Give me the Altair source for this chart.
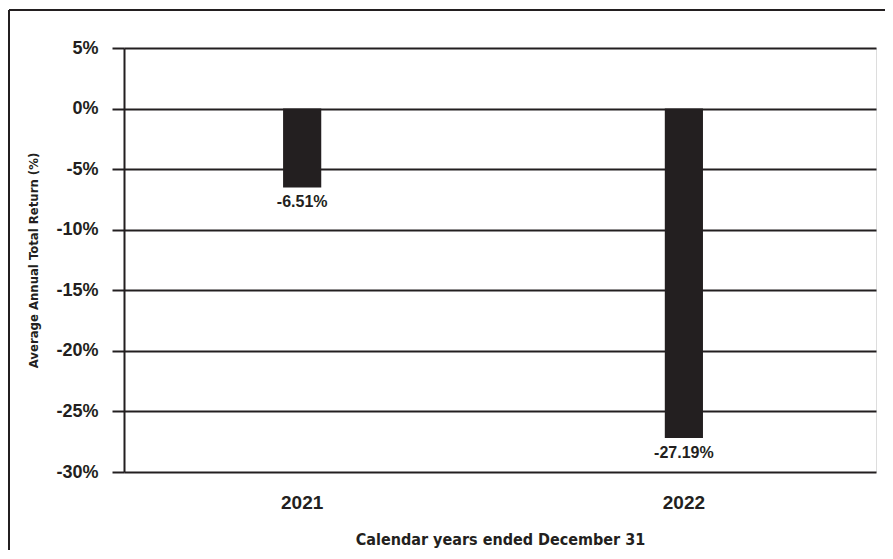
import altair as alt
import pandas as pd

years = ["2021", "2022"]
returns = [-6.51, -27.19]
labels = ["-6.51%", "-27.19%"]
y_ticks = [5, 0, -5, -10, -15, -20, -25, -30]

INK = "#231f20"
COND = "DejaVu Sans Condensed, sans-serif"
df = pd.DataFrame({"year": years, "ret": returns, "label": labels})

W, H = 752, 424

xscale = alt.Scale(paddingInner=0.9, paddingOuter=0.435, align=0.479)
yscale = alt.Scale(domain=[-30, 5], nice=False, zero=False)

base = alt.Chart(df)

bars = base.mark_bar(color=INK).encode(
    x=alt.X("year:N", scale=xscale, sort=years,
            axis=alt.Axis(title="Calendar years ended December 31", labelAngle=0,
                          tickSize=0, domain=False, labelPadding=21,
                          labelFont="Liberation Sans", labelFontSize=19, labelFontWeight="bold",
                          labelColor=INK, titleFont=COND,
                          titleFontSize=16, titleFontWeight="bold", titleColor=INK,
                          titleY=67, titleBaseline="middle")),
    y=alt.Y("ret:Q", scale=yscale,
            axis=alt.Axis(values=y_ticks, labelExpr="datum.value + '%'",
                          title="Average Annual Total Return (%)",
                          grid=True, gridColor=INK, gridWidth=2, gridOpacity=1,
                          domain=True, domainColor=INK, domainWidth=2,
                          ticks=True, tickSize=12, tickColor=INK, tickWidth=2,
                          labelPadding=14, labelFont="Liberation Sans", labelFontSize=18,
                          labelFontWeight="bold", labelColor=INK,
                          titleFont=COND,
                          titleFontSize=13, titleFontWeight="bold", titleColor=INK,
                          titleAngle=-90, titleX=-91, titleY=H / 2, titleBaseline="middle",
                          titleAlign="center")),
    y2=alt.datum(0),
)

text = base.mark_text(baseline="top", dy=7, font="Liberation Sans", fontSize=16,
                      fontWeight="bold", color=INK).encode(
    x=alt.X("year:N", scale=xscale, sort=years),
    y=alt.Y("ret:Q", scale=yscale),
    text="label:N",
)

frame_df = pd.DataFrame({"a": [0]})
frame_left = alt.Chart(frame_df).mark_rule(color=INK, strokeWidth=2).encode(
    x=alt.value(-115), y=alt.value(-38), y2=alt.value(H + 90))
frame_top = alt.Chart(frame_df).mark_rule(color=INK, strokeWidth=2).encode(
    x=alt.value(-115), x2=alt.value(W + 30), y=alt.value(-38))

chart = alt.layer(bars, text, frame_left, frame_top).properties(
    width=W, height=H,
    padding={"left": 116, "top": 40, "right": 9, "bottom": 78},
    autosize=alt.AutoSizeParams(type="none"),
).configure_view(stroke=INK, strokeWidth=2).configure(background="white")

chart.save("out.html", embed_options={"renderer": "svg", "actions": False})
